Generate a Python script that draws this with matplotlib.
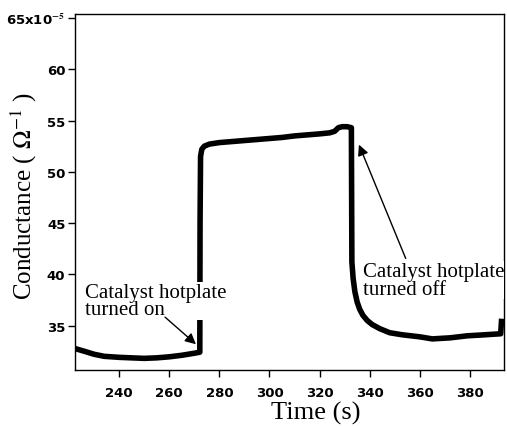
import matplotlib
matplotlib.use("Agg")
import matplotlib.pyplot as plt
from matplotlib.ticker import FuncFormatter

# conductance trace (units of 1e-5 S)
time_s = [222.5, 226, 230, 234, 240, 245, 250, 255, 260, 265, 270, 272.2,
          272.3, 272.5, 273, 274, 276, 280, 285, 290, 295, 300, 305, 310,
          315, 320, 324, 326, 327.5, 329, 331, 332.7,
          332.9, 333.4, 334.1, 335, 336, 337.3, 339, 341, 344, 348, 353,
          360, 365, 372, 379, 386, 392.3, 392.6]
conductance = [32.75, 32.5, 32.2, 32.0, 31.9, 31.85, 31.8, 31.85, 31.95, 32.1, 32.3, 32.4,
               45.0, 51.5, 52.2, 52.5, 52.7, 52.85, 52.95, 53.05, 53.15, 53.25, 53.35, 53.5,
               53.6, 53.7, 53.8, 53.95, 54.3, 54.4, 54.4, 54.3,
               41.2, 39.6, 38.3, 37.3, 36.6, 36.0, 35.5, 35.1, 34.7, 34.3, 34.1,
               33.9, 33.7, 33.8, 34.0, 34.1, 34.2, 35.4]

x_ticks = [240, 260, 280, 300, 320, 340, 360, 380]
y_ticks = [35, 40, 45, 50, 55, 60, 65]

note_on = "Catalyst hotplate\nturned on"
note_off = "Catalyst hotplate\nturned off"

plt.rcParams['mathtext.fontset'] = 'stix'

fig = plt.figure(figsize=(5.07, 4.27), dpi=100)
ax = fig.add_axes([0.148, 0.132, 0.846, 0.833])

ax.plot(time_s, conductance, color='black', lw=4, zorder=2)

ax.set_xlim(222.4, 393.6)
ax.set_ylim(30.7, 65.4)
ax.set_xticks(x_ticks)
ax.set_yticks(y_ticks)


def ylab(v, pos):
    if v == 65:
        return r'65x10$^{\mathbf{-5}}$'
    return '%d' % v


ax.yaxis.set_major_formatter(FuncFormatter(ylab))
ax.tick_params(direction='out', length=5, width=1, labelsize=9.5)
ax.tick_params(axis='x', pad=7)
ax.tick_params(axis='y', pad=2)
for lab in ax.get_xticklabels() + ax.get_yticklabels():
    lab.set_fontweight('bold')
for s in ax.spines.values():
    s.set_linewidth(1)

ax.set_xlabel("Time (s)", family='Liberation Serif', fontsize=19)
ax.xaxis.set_label_coords(0.562, -0.088)
ax.set_ylabel(r"Conductance ( $\Omega^{-1}$ )", family='Liberation Serif', fontsize=18)
ax.yaxis.set_label_coords(-0.085, 0.49)

box = dict(facecolor='white', edgecolor='none', pad=0.5)
ax.text(226.4, 39.2, note_on, family='Liberation Serif', fontsize=15,
        va='top', ha='left', linespacing=0.9, bbox=box, zorder=3)
ax.text(337.3, 41.2, note_off, family='Liberation Serif', fontsize=15,
        va='top', ha='left', linespacing=0.9, bbox=box, zorder=3, clip_on=True)

arrow = dict(arrowstyle='-|>', color='black', lw=1, mutation_scale=16)
ax.annotate('', xy=(271.5, 33.0), xytext=(257.5, 36.0), arrowprops=arrow, zorder=4)
ax.annotate('', xy=(335.3, 52.9), xytext=(354.8, 41.3), arrowprops=arrow, zorder=4)

fig.savefig("out.png", dpi=100)
